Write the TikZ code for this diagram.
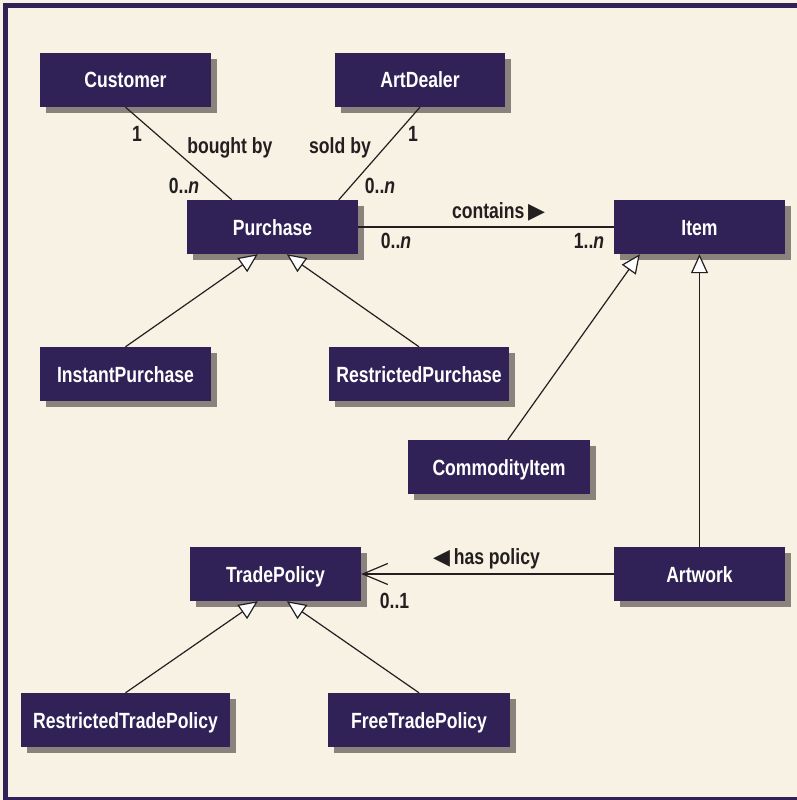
\documentclass[tikz,border=0pt]{standalone}
\usepackage{fontspec}
\setmainfont{Liberation Sans}[FakeStretch=0.8]
\newfontfamily\symfont{DejaVu Sans}
\usetikzlibrary{arrows.meta,shadows}
\definecolor{bg}{HTML}{F8F2E5}
\definecolor{boxc}{HTML}{302257}
\definecolor{shade}{HTML}{8A827D}
\definecolor{ink}{HTML}{231F20}
\tikzset{
  cls/.style={draw=none, fill=boxc, text=white, font=\fontsize{22}{24}\selectfont\bfseries,
    minimum width=171pt, minimum height=54pt, text height=16pt, text depth=0pt, inner sep=0pt,
    drop shadow={shadow xshift=6pt, shadow yshift=-6pt, fill=shade, opacity=1}},
  lbl/.style={text=ink, font=\fontsize{22}{24}\selectfont\bfseries, inner sep=0pt, anchor=base},
  conn/.style={draw=ink, line width=1.2pt},
  gen/.style={conn, -{Triangle[length=19pt, width=17pt, fill=white, line width=1.2pt]}},
  nav/.style={conn, -{Straight Barb[length=25pt, width=21pt, line width=1.2pt]}}
}
\begin{document}
\begin{tikzpicture}[x=1pt, y=-1pt]
\useasboundingbox (0,0) rectangle (797,800);
\fill[bg] (0,0) rectangle (797,800);
\fill[boxc] (3,3) rectangle (797,8);
\fill[boxc] (3,3) rectangle (8,800);
\fill[boxc] (3,797) rectangle (797,800);

\node[cls] (customer) at (125.5,80) {Customer};
\node[cls, minimum width=170pt] (artdealer) at (420,80) {ArtDealer};
\node[cls] (purchase) at (272.5,227) {Purchase};
\node[cls] (item) at (699.5,227) {Item};
\node[cls] (instant) at (125.5,374) {InstantPurchase};
\node[cls, minimum width=180pt] (restricted) at (419,374) {RestrictedPurchase};
\node[cls, minimum width=182pt] (commodity) at (499,467) {CommodityItem};
\node[cls] (artwork) at (699.5,574) {Artwork};
\node[cls] (trade) at (275.5,574) {TradePolicy};
\node[cls, minimum width=209pt] (rtrade) at (125.5,720) {RestrictedTradePolicy};
\node[cls, minimum width=182pt] (ftrade) at (419,720) {FreeTradePolicy};

\draw[conn] (customer.south) -- ([xshift=45pt]purchase.north west);
\draw[conn] (artdealer.south) -- ([xshift=152pt]purchase.north west);
\draw[conn] (purchase.east) -- (item.west);
\draw[gen] (instant.north) -- ([xshift=71pt]purchase.south west);
\draw[gen] (restricted.north) -- ([xshift=100pt]purchase.south west);
\draw[gen] ([xshift=100pt]commodity.north west) -- ([xshift=26pt]item.south west);
\draw[gen] (artwork.north) -- (item.south);
\draw[nav] (artwork.west) -- (trade.east);
\draw[gen] (rtrade.north) -- ([xshift=68pt]trade.south west);
\draw[gen] (ftrade.north) -- ([xshift=97pt]trade.south west);

\node[lbl] (m1) at (137,141) {1};
\node[lbl] (bb) at (230,153) {bought by};
\node[lbl] (m2) at (184,193) {0..\textit{n}};
\node[lbl] (sb) at (340,153) {sold by};
\node[lbl] (m3) at (413,141) {1};
\node[lbl] (m4) at (380,193) {0..\textit{n}};
\node[lbl] (ct) at (498.5,218) {contains\,{\symfont ▶}};
\node[lbl] (m5) at (396,248) {0..\textit{n}};
\node[lbl] (m6) at (589,248) {1..\textit{n}};
\node[lbl] (hp) at (486.5,564) {{\symfont ◀}\,has policy};
\node[lbl] (m7) at (394.5,608) {0..1};
\end{tikzpicture}
\end{document}
